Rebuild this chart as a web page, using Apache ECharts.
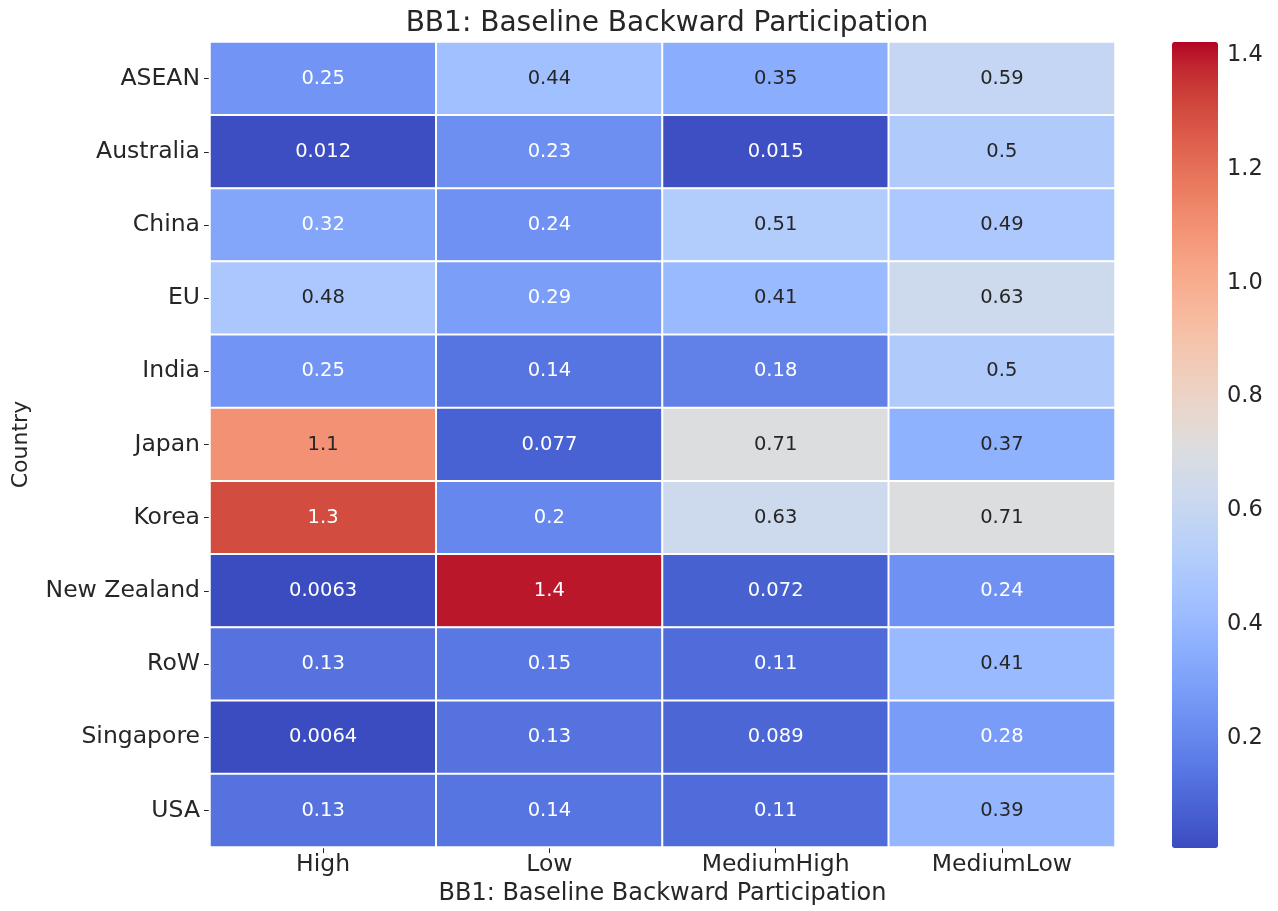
<!DOCTYPE html>
<html>
<head>
<meta charset="utf-8">
<script src="https://cdn.jsdelivr.net/npm/echarts@6/dist/echarts.min.js"></script>
<style>
  html, body { margin: 0; padding: 0; background: #fff; }
  #chart { width: 1278px; height: 911px; }
</style>
</head>
<body>
<div id="chart"></div>
<script>
// Backward participation by country and technology tier
const countries = ['ASEAN', 'Australia', 'China', 'EU', 'India', 'Japan', 'Korea',
  'New Zealand', 'RoW', 'Singapore', 'USA'];
const tiers = ['High', 'Low', 'MediumHigh', 'MediumLow'];

const highValues       = [0.25, 0.012, 0.32, 0.48, 0.25, 1.1, 1.3, 0.0063, 0.13, 0.0064, 0.13];
const lowValues        = [0.44, 0.23, 0.24, 0.29, 0.14, 0.077, 0.2, 1.4, 0.15, 0.13, 0.14];
const mediumHighValues = [0.35, 0.015, 0.51, 0.41, 0.18, 0.71, 0.63, 0.072, 0.11, 0.089, 0.11];
const mediumLowValues  = [0.59, 0.5, 0.49, 0.63, 0.5, 0.37, 0.71, 0.24, 0.41, 0.28, 0.39];

const colorbarTicks = [0.2, 0.4, 0.6, 0.8, 1.0, 1.2, 1.4];

// coolwarm diverging colour map, 33 evenly spaced stops
const coolwarm = [
  '#3b4cc0', '#445acc', '#4d68d7', '#5775e1', '#6282ea', '#6c8ef1', '#779af7', '#82a5fb',
  '#8db0fe', '#98b9ff', '#a3c2ff', '#aec9fd', '#b8d0f9', '#c2d5f4', '#ccd9ee', '#d5dbe6',
  '#dddddd', '#e5d8d1', '#ecd3c5', '#f1ccb9', '#f5c4ad', '#f7bba0', '#f7b194', '#f7a687',
  '#f49a7b', '#f18d6f', '#ec7f63', '#e57058', '#de604d', '#d55042', '#cb3e38', '#c0282f',
  '#b40426'
];
const vMin = 0.0063, vMax = 1.423;

function hexToRgb(h) {
  return [parseInt(h.slice(1, 3), 16), parseInt(h.slice(3, 5), 16), parseInt(h.slice(5, 7), 16)];
}
function colorAt(v) {
  let t = (v - vMin) / (vMax - vMin);
  t = Math.max(0, Math.min(1, t));
  const p = t * (coolwarm.length - 1);
  const i = Math.min(Math.floor(p), coolwarm.length - 2);
  const f = p - i;
  const a = hexToRgb(coolwarm[i]), b = hexToRgb(coolwarm[i + 1]);
  return a.map((c, k) => c + (b[k] - c) * f);
}
function luminance(rgb) {
  const lin = rgb.map(c => {
    c /= 255;
    return c <= 0.03928 ? c / 12.92 : Math.pow((c + 0.055) / 1.055, 2.4);
  });
  return 0.2126 * lin[0] + 0.7152 * lin[1] + 0.0722 * lin[2];
}

// annotation text is dark on light cells, white on dark cells
const columns = [highValues, lowValues, mediumHighValues, mediumLowValues];
const cells = [];
columns.forEach((col, x) => {
  col.forEach((v, y) => {
    const light = luminance(colorAt(v)) > 0.396;
    cells.push({
      value: [x, y, v],
      label: { color: light ? '#262626' : '#ffffff' }
    });
  });
});

const FONT = 'DejaVu Sans';
const INK = '#262626';
const chart = echarts.init(document.getElementById('chart'));
chart.setOption({
  animation: false,
  textStyle: { fontFamily: FONT },
  title: {
    text: 'BB1: Baseline Backward Participation',
    left: 662, top: 5, textAlign: 'center',
    textStyle: { fontFamily: FONT, fontSize: 28, fontWeight: 'normal', color: INK }
  },
  grid: [
    { left: 210, right: 163, top: 42, bottom: 63 },
    { left: 1172, width: 46, top: 42, height: 806 }
  ],
  xAxis: [
    {
      type: 'category', data: tiers, gridIndex: 0,
      name: 'BB1: Baseline Backward Participation', nameLocation: 'middle', nameGap: 30,
      nameTextStyle: { fontFamily: FONT, fontSize: 24, color: INK },
      axisLine: { show: false },
      axisTick: { show: true, alignWithLabel: true, length: 6, lineStyle: { color: INK } },
      axisLabel: { fontFamily: FONT, fontSize: 23.5, color: INK, margin: 6 },
      splitLine: { show: false }
    },
    { type: 'value', gridIndex: 1, show: false, min: 0, max: 1 }
  ],
  yAxis: [
    {
      type: 'category', data: countries, inverse: true, gridIndex: 0,
      name: 'Country', nameLocation: 'middle', nameGap: 178, nameRotate: 90,
      nameTextStyle: { fontFamily: FONT, fontSize: 22, color: INK },
      axisLine: { show: false },
      axisTick: { show: true, alignWithLabel: true, length: 6, lineStyle: { color: INK } },
      axisLabel: { fontFamily: FONT, fontSize: 23.5, color: INK, margin: 10 },
      splitLine: { show: false }
    },
    {
      type: 'value', gridIndex: 1, position: 'right', min: vMin, max: vMax,
      axisLine: { show: false },
      axisTick: { show: true, length: 6, inside: false, customValues: colorbarTicks,
        lineStyle: { color: INK } },
      axisLabel: { fontFamily: FONT, fontSize: 22.5, color: INK, margin: 9,
        customValues: colorbarTicks, formatter: v => v.toFixed(1) },
      splitLine: { show: false }
    }
  ],
  visualMap: {
    type: 'continuous', min: vMin, max: vMax, dimension: 2, seriesIndex: 0,
    calculable: false, realtime: false, hoverLink: false,
    orient: 'vertical', left: 1172, top: 42, itemWidth: 46, itemHeight: 806,
    padding: 0, text: null, showLabel: false,
    inRange: { color: coolwarm }
  },
  series: [{
    type: 'heatmap', xAxisIndex: 0, yAxisIndex: 0,
    data: cells,
    label: { show: true, fontFamily: FONT, fontSize: 19.5, formatter: p => String(p.value[2]) },
    itemStyle: { borderColor: '#ffffff', borderWidth: 2 },
    emphasis: { disabled: true }
  }]
});
</script>
</body>
</html>
